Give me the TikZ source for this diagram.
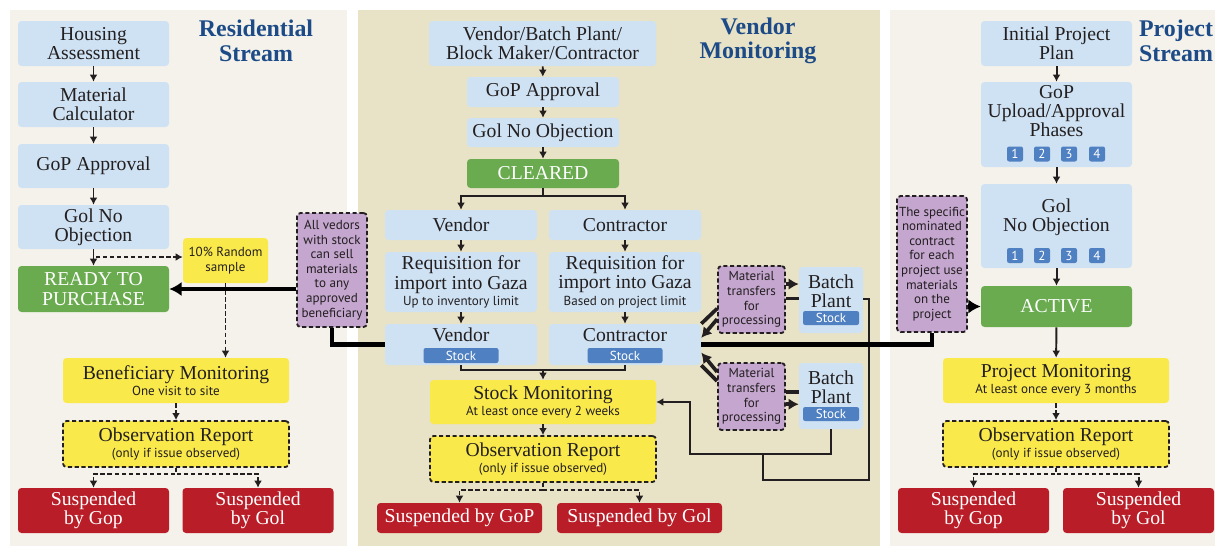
\documentclass[tikz,border=0pt]{standalone}
\usepackage{fontspec}
\setmainfont{Liberation Serif}
\setsansfont{PT Sans}
\usepackage{tikz}
\usetikzlibrary{arrows.meta}
\definecolor{boxblue}{RGB}{207,226,243}
\definecolor{boxgreen}{RGB}{106,171,80}
\definecolor{boxyellow}{RGB}{250,233,75}
\definecolor{boxred}{RGB}{185,30,40}
\definecolor{boxpurple}{RGB}{196,166,207}
\definecolor{tagblue}{RGB}{79,128,193}
\definecolor{titleblue}{RGB}{28,75,135}
\definecolor{panelpale}{RGB}{245,242,235}
\definecolor{paneltan}{RGB}{232,226,198}
\definecolor{inkcol}{RGB}{35,31,32}
\newcommand{\bigfs}{\fontsize{14}{13.8}\selectfont}
\newcommand{\smallfs}{\sffamily\fontsize{9.3}{10.4}\selectfont}

\begin{document}
\begin{tikzpicture}[x=0.025cm, y=-0.025cm,
   >={Latex[length=2.5pt 1.8, width=2.5pt 2.2]},
   sz/.style 2 args={minimum width=#1*0.025cm, minimum height=#2*0.025cm},
   box/.style={rounded corners=2.5pt, inner sep=0pt, align=center, font=\bigfs, text=inkcol},
   bluebox/.style={box, fill=boxblue},
   greenbox/.style={box, fill=boxgreen, text=white},
   yellowbox/.style={box, fill=boxyellow},
   dashbox/.style={box, fill=boxyellow, draw=inkcol, line width=1.3pt, dash pattern=on 3pt off 1.8pt},
   redbox/.style={box, fill=boxred, text=white},
   notebox/.style={box, fill=boxpurple, draw=inkcol, line width=1.3pt, dash pattern=on 3pt off 1.8pt, font=\smallfs},
   tag/.style={box, rounded corners=1.5pt, fill=tagblue, text=white, font=\smallfs},
   plain/.style={inner sep=0pt, align=center, font=\bigfs, text=inkcol},
   title/.style={align=center, text=titleblue, font=\bfseries\fontsize{17}{17.5}\selectfont},
   flow/.style={draw=inkcol, line width=1.4pt, ->},
   dflow/.style={flow, dash pattern=on 3pt off 2pt},
   link/.style={draw=inkcol, line width=1.4pt},
   heavy/.style={draw=black, line width=3.5pt},
   feed/.style={draw=inkcol, line width=2.6pt}]
   \fill[white] (0,0) rectangle (1215,546);
   \useasboundingbox (0,0) rectangle (1215,546);
   \fill[panelpale] (10,10) rectangle (347,546);
   \fill[paneltan] (358,10) rectangle (880,546);
   \fill[panelpale] (890,10) rectangle (1215,546);

   \node[title] (resid) at (256,41) {Residential\\Stream};
   \node[bluebox, sz={151}{45}] (hous) at (93.5,43.5) {Housing\\Assessment};
   \node[bluebox, sz={151}{45}] (matc) at (93.5,104.5) {Material\\Calculator};
   \node[bluebox, sz={151}{44}] (gopl) at (93.5,166) {GoP Approval};
   \node[bluebox, sz={151}{44}] (goil) at (93.5,227) {Gol No\\Objection};
   \node[greenbox, sz={151}{46}] (ready) at (93.5,289) {READY TO\\PURCHASE};
   \node[yellowbox, sz={85}{45}, font=\smallfs] (rand) at (225.5,260.5) {10\% Random\\sample};
   \node[yellowbox, sz={226}{45}] (benm) at (176,380.5) {Beneficiary Monitoring\\[-2pt]{\smallfs One visit to site}};
   \node[dashbox, sz={226}{46}] (obsl) at (176,444) {Observation Report\\[-2pt]{\smallfs (only if issue observed)}};
   \node[redbox, sz={151}{45}] (susl1) at (93.5,510.5) {Suspended\\by Gop};
   \node[redbox, sz={151}{45}] (susl2) at (258,510.5) {Suspended\\by Gol};
   \node[notebox, sz={70}{114}] (allv) at (332,270) {All vedors\\with stock\\can sell\\materials\\to any\\approved\\beneficiary};
   \coordinate (rj) at (96,257);
   \draw[flow] (hous) -- (matc);
   \draw[flow] (matc) -- (gopl);
   \draw[flow] (gopl) -- (goil);
   \draw[flow] (goil) -- (ready);
   \draw[dflow] (rj) -- (rj -| rand.west);
   \draw[dflow] (rand) -- (rand |- benm.north);
   \draw[dflow] (benm) -- (obsl);
   \draw[dflow] (obsl.south) -- ++(0,6) -| (susl1);
   \draw[dflow] (obsl.south) -- ++(0,6) -| (susl2);

   \node[title] (vmon) at (758,41) {Vendor\\Monitoring};
   \node[bluebox, sz={227}{45}] (vbp) at (542.5,43.5) {Vendor/Batch Plant/\\Block Maker/Contractor};
   \node[bluebox, sz={152}{30}] (gopm) at (543,92) {GoP Approval};
   \node[bluebox, sz={152}{29}] (goim) at (543,132.5) {Gol No Objection};
   \node[greenbox, sz={152}{29}] (clear) at (543,173.5) {CLEARED};
   \node[bluebox, sz={152}{30}] (vtype) at (461,225) {Vendor};
   \node[bluebox, sz={152}{30}] (ctype) at (625,225) {Contractor};
   \node[bluebox, sz={152}{60}] (vreq) at (461,282) {Requisition for\\import into Gaza\\[-2pt]{\smallfs Up to inventory limit}};
   \node[bluebox, sz={152}{60}] (creq) at (625,282) {Requisition for\\import into Gaza\\[-2pt]{\smallfs Based on project limit}};
   \node[bluebox, sz={152}{41}] (vend) at (461,344.5) {};
   \node[plain] (vendtxt) at (461,335) {Vendor};
   \node[tag, sz={75}{15}] (vstock) at (461,355.5) {Stock};
   \node[bluebox, sz={152}{41}] (cont) at (625,344.5) {};
   \node[plain] (conttxt) at (625,335) {Contractor};
   \node[tag, sz={75}{15}] (cstock) at (625,355.5) {Stock};
   \node[yellowbox, sz={226}{44}] (stkm) at (543,402) {Stock Monitoring\\[-2pt]{\smallfs At least once every 2 weeks}};
   \node[dashbox, sz={226}{46}] (obsm) at (543,459) {Observation Report\\[-2pt]{\smallfs (only if issue observed)}};
   \node[redbox, sz={165}{30}] (susm1) at (459.5,518) {Suspended by GoP};
   \node[redbox, sz={165}{30}] (susm2) at (639.5,518) {Suspended by Gol};
   \node[notebox, sz={67}{67}] (mtr1) at (751.5,299.5) {Material\\transfers\\for\\processing};
   \node[notebox, sz={67}{67}] (mtr2) at (751.5,396.5) {Material\\transfers\\for\\processing};
   \node[bluebox, sz={64}{66}] (bp1) at (831,300) {};
   \node[plain] (bp1txt) at (831,291) {Batch\\Plant};
   \node[tag, sz={56}{14}] (bp1stock) at (831,318) {Stock};
   \node[bluebox, sz={64}{66}] (bp2) at (831,396) {};
   \node[plain] (bp2txt) at (831,387) {Batch\\Plant};
   \node[tag, sz={56}{14}] (bp2stock) at (831,414) {Stock};
   \coordinate (sj) at (543,370);
   \coordinate (bpr) at (869,480);
   \coordinate (bpm) at (763,454);
   \coordinate (bpl) at (690,454);
   \draw[flow] (vbp) -- (gopm);
   \draw[flow] (gopm) -- (goim);
   \draw[flow] (goim) -- (clear);
   \draw[flow] (clear.south) -- ++(0,8) -| (vtype);
   \draw[flow] (clear.south) -- ++(0,8) -| (ctype);
   \draw[flow] (vtype) -- (vreq);
   \draw[flow] (ctype) -- (creq);
   \draw[flow] (vreq) -- (vend);
   \draw[flow] (creq) -- (cont);
   \draw[link] (vend.south) |- (sj) -| (cont.south);
   \draw[flow] (sj) -- (stkm);
   \draw[flow] (stkm) -- (obsm);
   \draw[dflow] (obsm.south) -- ++(0,7) -| (susm1);
   \draw[dflow] (obsm.south) -- ++(0,7) -| (susm2);
   \draw[feed, ->] ([yshift=11pt]mtr1.east) -- ([yshift=11pt]mtr1.east -| bp1.west);
   \draw[feed] ([yshift=1pt]bp1.west) -- ([yshift=1pt]bp1.west -| mtr1.east);
   \draw[feed] ([yshift=18pt]mtr1.south west) -- (cont.north east);
   \draw[feed, ->] ([yshift=10.5pt]mtr1.south west) -- ([yshift=-10pt]cont.north east);
   \draw[feed, ->] ([yshift=-7pt]mtr2.north west) -- ([yshift=9pt]cont.south east);
   \draw[feed] ([yshift=-13.5pt]mtr2.north west) -- (cont.south east);
   \draw[feed] ([yshift=3pt]bp2.west) -- ([yshift=3pt]bp2.west -| mtr2.east);
   \draw[feed, ->] ([yshift=-5.5pt]mtr2.east) -- ([yshift=-5.5pt]mtr2.east -| bp2.west);
   \draw[link] ([yshift=1pt]bp1.east) -| (bpr) -| (bpm);
   \draw[flow] (bp2.south) |- (bpl) |- (stkm.east);

   \node[title] (proj) at (1176,41) {Project\\Stream};
   \node[bluebox, sz={151}{45}] (init) at (1056.5,43.5) {Initial Project\\Plan};
   \node[bluebox, sz={151}{85}] (gopp) at (1056.5,124.5) {};
   \node[plain] (gopptxt) at (1056.5,111) {GoP\\Upload/Approval\\Phases};
   \node[bluebox, sz={151}{84}] (goip) at (1056.5,226) {};
   \node[plain] (goiptxt) at (1056.5,217) {Gol\\No Objection};
   \foreach \n/\xx in {1/1015,2/1042,3/1069,4/1097} {
      \node[tag, sz={16}{15}] (gopt\n) at (\xx,154) {\n};
      \node[tag, sz={16}{15}] (goit\n) at (\xx,255.5) {\n};
   }
   \node[greenbox, sz={151}{41}] (active) at (1056.5,306.5) {ACTIVE};
   \node[yellowbox, sz={226}{45}] (prjm) at (1056,380.5) {Project Monitoring\\[-2pt]{\smallfs At least once every 3 months}};
   \node[dashbox, sz={226}{46}] (obsr) at (1056,444) {Observation Report\\[-2pt]{\smallfs (only if issue observed)}};
   \node[redbox, sz={151}{45}] (susr1) at (973.5,510.5) {Suspended\\by Gop};
   \node[redbox, sz={151}{45}] (susr2) at (1138.5,510.5) {Suspended\\by Gol};
   \node[notebox, sz={70}{136}] (spec) at (932,264) {The specific\\nominated\\contract\\for each\\project use\\materials\\on the\\project};
   \draw[flow] (init) -- (gopp);
   \draw[flow] (gopp) -- (goip);
   \draw[flow] (goip) -- (active);
   \draw[flow] (active) -- (prjm);
   \draw[dflow] (prjm) -- (obsr);
   \draw[dflow] (obsr.south) -- ++(0,6) -| (susr1);
   \draw[dflow] (obsr.south) -- ++(0,6) -| (susr2);

   \draw[heavy, ->] (allv.west |- ready.east) -- (ready.east);
   \draw[heavy] (allv.south) |- (vend.west);
   \draw[heavy] (cont.east) -| (spec.south);
   \draw[heavy, ->] (spec.east |- active.west) -- (active.west);
\end{tikzpicture}
\end{document}
